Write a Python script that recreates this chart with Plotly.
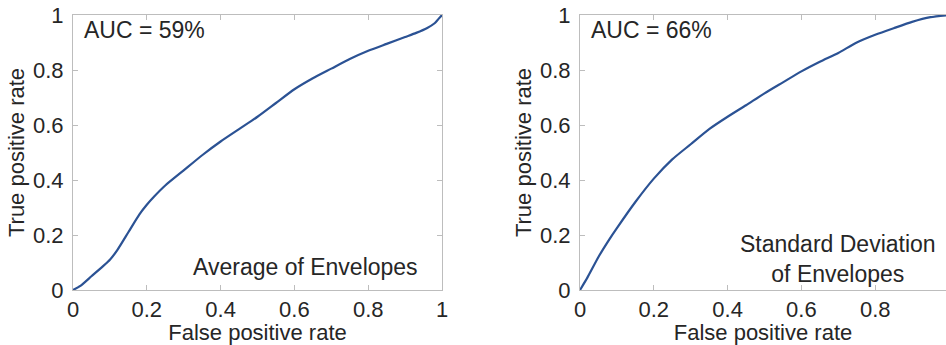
import plotly.graph_objects as go

# Left panel: Average of Envelopes (AUC 59%)
fpr_avg = [0, 0.02, 0.05, 0.08, 0.10, 0.12, 0.15, 0.18, 0.20, 0.22, 0.25, 0.30, 0.35, 0.40,
           0.45, 0.50, 0.55, 0.60, 0.65, 0.70, 0.75, 0.80, 0.85, 0.90, 0.93, 0.96,
           0.98, 0.99, 1.0]
tpr_avg = [0, 0.015, 0.05, 0.085, 0.11, 0.145, 0.21, 0.275, 0.31, 0.34, 0.38, 0.435, 0.49, 0.54,
           0.585, 0.63, 0.68, 0.73, 0.77, 0.805, 0.84, 0.87, 0.895, 0.92, 0.935, 0.953,
           0.97, 0.985, 1.0]

# Right panel: Standard Deviation of Envelopes (AUC 66%)
fpr_std = [0, 0.02, 0.05, 0.08, 0.10, 0.15, 0.20, 0.25, 0.30, 0.35, 0.40, 0.45, 0.50,
           0.55, 0.60, 0.65, 0.70, 0.75, 0.80, 0.85, 0.90, 0.95, 1.0]
tpr_std = [0, 0.045, 0.12, 0.185, 0.225, 0.32, 0.405, 0.475, 0.53, 0.585, 0.63, 0.672, 0.715,
           0.755, 0.795, 0.83, 0.862, 0.9, 0.928, 0.952, 0.975, 0.992, 1.0]

tick_vals = [0, 0.2, 0.4, 0.6, 0.8, 1]
tick_text = ["0", "0.2", "0.4", "0.6", "0.8", "1"]

auc_labels = ["AUC = 59%", "AUC = 66%"]
panel_labels = ["Average of Envelopes", "Standard Deviation<br>of Envelopes"]

LINE = "#2b5294"
AX = "#bdbdbd"
TXT = "#262626"
FONT = "Liberation Sans, Arial, sans-serif"
FS = 22
FA = 23

fig = go.Figure()
fig.add_trace(go.Scatter(x=fpr_avg, y=tpr_avg, mode="lines", xaxis="x", yaxis="y",
                         line=dict(color=LINE, width=2.2, shape="spline", smoothing=0.6),
                         showlegend=False, hoverinfo="skip"))
fig.add_trace(go.Scatter(x=fpr_std, y=tpr_std, mode="lines", xaxis="x2", yaxis="y2",
                         line=dict(color=LINE, width=2.2, shape="spline", smoothing=0.6),
                         showlegend=False, hoverinfo="skip"))

W, H = 946, 345
ml, mr, mt, mb = 73, 0, 15, 55
pw = W - ml - mr
left_dom = [0, 369 / pw]
right_dom = [(580 - ml) / pw, 1]
right_max = (W - 580) / 369.0

common = dict(showgrid=False, zeroline=False, showline=True, linecolor=AX, linewidth=1,
              ticks="inside", ticklen=5, tickcolor=AX, tickwidth=1, automargin=False,
              tickvals=tick_vals, ticktext=tick_text, ticklabeloverflow="allow",
              tickfont=dict(family=FONT, size=FS, color=TXT))

xt = dict(text="False positive rate", font=dict(family=FONT, size=FS, color=TXT), standoff=0)
yt = dict(text="True positive rate", font=dict(family=FONT, size=FS, color=TXT), standoff=2)

fig.update_layout(
    template="none",
    width=W, height=H,
    margin=dict(l=ml, r=mr, t=mt, b=mb),
    paper_bgcolor="white", plot_bgcolor="white",
    font=dict(family=FONT, color=TXT),
    hovermode=False,
    xaxis=dict(domain=left_dom, range=[0, 1], mirror="ticks", anchor="y", title=xt, **common),
    yaxis=dict(domain=[0, 1], range=[0, 1], mirror="ticks", anchor="x",
               ticklabelstandoff=4, title=yt, **common),
    xaxis2=dict(domain=right_dom, range=[0, right_max], mirror="ticks", anchor="y2",
                title=xt, **common),
    yaxis2=dict(domain=[0, 1], range=[0, 1], mirror=False, anchor="x2",
                ticklabelstandoff=4, title=yt, **common),
)

fig.add_annotation(x=0.024, y=1.0, xref="x", yref="y", text=auc_labels[0], showarrow=False,
                   xanchor="left", yanchor="top", font=dict(family=FONT, size=FA, color=TXT))
fig.add_annotation(x=0.024, y=1.0, xref="x2", yref="y2", text=auc_labels[1], showarrow=False,
                   xanchor="left", yanchor="top", font=dict(family=FONT, size=FA, color=TXT))
fig.add_annotation(x=0.94, y=0.085, xref="x", yref="y", text=panel_labels[0], showarrow=False,
                   xanchor="right", yanchor="middle", font=dict(family=FONT, size=FA, color=TXT))
fig.add_annotation(x=0.70, y=0.113, xref="x2", yref="y2", text=panel_labels[1], showarrow=False,
                   xanchor="center", yanchor="middle", align="center",
                   font=dict(family=FONT, size=FA, color=TXT))

fig.write_html("out.html", config={"displayModeBar": False, "staticPlot": True},
               post_script="document.body.style.margin='0';")
